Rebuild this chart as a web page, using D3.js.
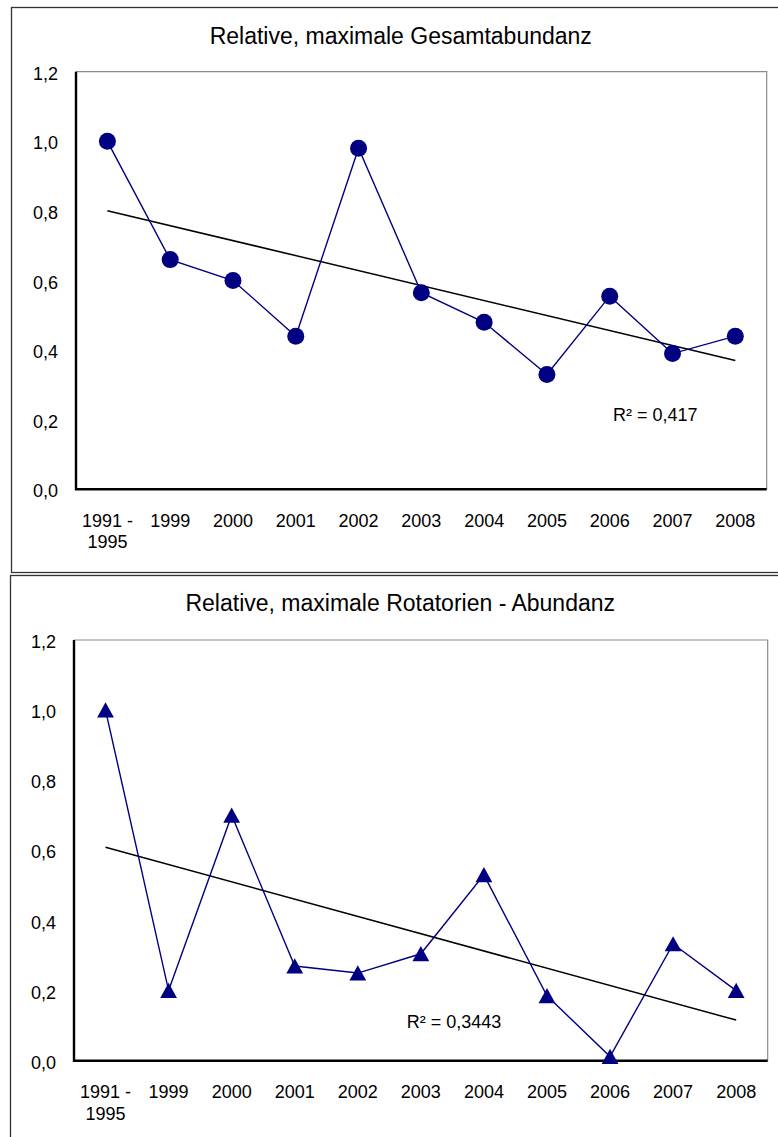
<!DOCTYPE html>
<html>
<head>
<meta charset="utf-8">
<script src="https://cdn.jsdelivr.net/npm/d3@7"></script>
<style>
  body { margin: 0; background: #fff; }
  svg { display: block; font-family: "Liberation Sans", Arial, sans-serif; }
</style>
</head>
<body>
<div id="chart"></div>
<script>
// shared categories and y ticks
const categories = ["1991 -\n1995", "1999", "2000", "2001", "2002", "2003", "2004", "2005", "2006", "2007", "2008"]
const yTicks = [0, 0.2, 0.4, 0.6, 0.8, 1.0, 1.2]

// chart 1
const gesamtTitle = "Relative, maximale Gesamtabundanz"
const gesamtValues = [1.00, 0.66, 0.60, 0.44, 0.98, 0.565, 0.48, 0.33, 0.555, 0.39, 0.44]
const gesamtR2 = "R² = 0,417"

// chart 2
const rotTitle = "Relative, maximale Rotatorien - Abundanz"
const rotValues = [1.00, 0.20, 0.70, 0.27, 0.25, 0.305, 0.53, 0.185, 0.012, 0.333, 0.20]
const rotR2 = "R² = 0,3443"

const width = 778
const height = 1137
const navy = "#000080"

const locale = d3.formatLocale({decimal: ",", thousands: ".", grouping: [3], currency: ["", "€"]})
const fmt = locale.format(".1f")

const svg = d3.select("#chart").append("svg")
  .attr("width", width)
  .attr("height", height)

// least squares on category index 1..n
function trend(values) {
  const n = values.length
  const xs = values.map((_, i) => i + 1)
  const mx = d3.mean(xs), my = d3.mean(values)
  const slope = d3.sum(values, (v, i) => (xs[i] - mx) * (v - my)) / d3.sum(xs, x => (x - mx) ** 2)
  return i => my + slope * (i + 1 - mx)
}

function drawChart(cfg) {
  const {frame, plot, title, titleY, values, r2, r2Pos, marker} = cfg
  const g = svg.append("g")

  g.append("rect")
    .attr("x", frame.x).attr("y", frame.y)
    .attr("width", frame.w).attr("height", frame.h)
    .attr("fill", "#fff")
    .attr("stroke", "#333")
    .attr("stroke-width", 1.3)

  g.append("text")
    .attr("x", (frame.x + 778) / 2 + 6)
    .attr("y", titleY)
    .attr("text-anchor", "middle")
    .attr("font-size", "23px")
    .attr("fill", "#000")
    .text(title)

  const x = d3.scaleBand()
    .domain(categories)
    .range([plot.left, plot.right])

  const y = d3.scaleLinear()
    .domain([0, 1.2])
    .range([plot.bottom, plot.top])

  const cx = (d, i) => x(categories[i]) + x.bandwidth() / 2

  // top / right border of plot area
  g.append("path")
    .attr("d", `M${plot.left},${plot.top}H${plot.right}V${plot.bottom}`)
    .attr("fill", "none")
    .attr("stroke", "#8c8c8c")
    .attr("stroke-width", 1.2)

  const yAxis = g.append("g")
    .attr("transform", `translate(${plot.left},0)`)
    .call(d3.axisLeft(y).tickValues(yTicks).tickFormat(fmt).tickSize(0).tickPadding(18))
  yAxis.select(".domain").remove()
  yAxis.selectAll("text")
    .attr("font-size", "18px")
    .attr("font-family", null)
    .attr("fill", "#000")
    .attr("dy", "0.42em")
  yAxis.attr("font-family", null)

  const xAxis = g.append("g")
    .attr("transform", `translate(0,${plot.bottom})`)
    .call(d3.axisBottom(x).tickSize(0).tickPadding(25))
  xAxis.select(".domain").remove()
  xAxis.attr("font-family", null)
  xAxis.selectAll("text")
    .attr("font-size", "18px")
    .attr("fill", "#000")
    .text(null)
    .each(function(d) {
      const t = d3.select(this)
      d.split("\n").forEach((line, i) => {
        t.append("tspan")
          .attr("x", 0)
          .attr("dy", i ? "1.17em" : null)
          .text(line)
      })
    })

  // black axis lines
  g.append("path")
    .attr("d", `M${plot.left},${plot.top}V${plot.bottom}H${plot.right}`)
    .attr("fill", "none")
    .attr("stroke", "#000")
    .attr("stroke-width", 2.4)

  // trend line
  const t = trend(values)
  const n = values.length
  g.append("line")
    .attr("x1", cx(null, 0)).attr("y1", y(t(0)))
    .attr("x2", cx(null, n - 1)).attr("y2", y(t(n - 1)))
    .attr("stroke", "#000")
    .attr("stroke-width", 1.5)

  const line = d3.line()
    .x(cx)
    .y(d => y(d))

  g.append("path")
    .datum(values)
    .attr("fill", "none")
    .attr("stroke", navy)
    .attr("stroke-width", 1.4)
    .attr("d", line)

  if (marker === "circle") {
    g.selectAll("circle.pt")
      .data(values)
      .join("circle")
      .attr("class", "pt")
      .attr("cx", cx)
      .attr("cy", d => y(d))
      .attr("r", 8.5)
      .attr("fill", navy)
  } else {
    g.selectAll("path.pt")
      .data(values)
      .join("path")
      .attr("class", "pt")
      .attr("transform", (d, i) => `translate(${cx(d, i)},${y(d)})`)
      .attr("d", "M0,-7.8L8.4,7.4L-8.4,7.4Z")
      .attr("fill", navy)
  }

  g.append("text")
    .attr("x", r2Pos[0])
    .attr("y", r2Pos[1])
    .attr("font-size", "18px")
    .attr("fill", "#000")
    .text(r2)
}

drawChart({
  frame: {x: 11.5, y: 7.5, w: 800, h: 565},
  plot: {left: 76, top: 71.7, right: 766.7, bottom: 489.3},
  title: gesamtTitle,
  titleY: 43.5,
  values: gesamtValues,
  r2: gesamtR2,
  r2Pos: [613, 420.7],
  marker: "circle"
})

drawChart({
  frame: {x: 10.5, y: 575.5, w: 800, h: 600},
  plot: {left: 74, top: 640, right: 767.7, bottom: 1060.7},
  title: rotTitle,
  titleY: 610.7,
  values: rotValues,
  r2: rotR2,
  r2Pos: [406.7, 1028.3],
  marker: "triangle"
})
</script>
</body>
</html>
